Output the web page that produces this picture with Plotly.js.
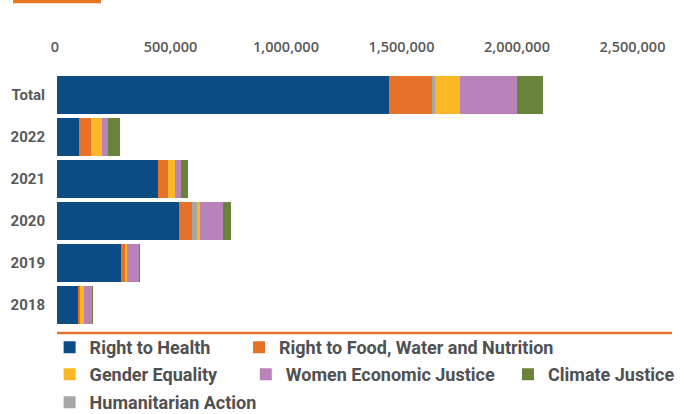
<!DOCTYPE html>
<html>
<head>
<meta charset="utf-8">
<script src="https://cdn.plot.ly/plotly-3.0.1.min.js"></script>
<style>html,body{margin:0;padding:0;background:#fff;}#chart{width:684px;height:414px;}</style>
</head>
<body>
<div id="chart"></div>
<script>
// Categories (top to bottom)
const categories = ['Total', '2022', '2021', '2020', '2019', '2018'];

// Series values
const rightToHealth   = [1437000,  95000, 437000, 528000, 276000, 89600];
const rightToFood     = [ 185000,  52000,  43000,  56000,  18600, 10000];
const humanitarian    = [  14000,      0,      0,  21600,      0,     0];
const genderEquality  = [ 108000,  47600,  30000,  13000,   8700, 16000];
const womenEconomic   = [ 247000,  26000,  26000,  99600,  52000, 34600];
const climateJustice  = [ 113000,  52000,  30000,  34600,   4300,  4300];

// Series names (stack order)
const seriesNames = ['Right to Health', 'Right to Food, Water and Nutrition', 'Humanitarian Action',
                     'Gender Equality', 'Women Economic Justice', 'Climate Justice'];
const seriesValues = [rightToHealth, rightToFood, humanitarian, genderEquality, womenEconomic, climateJustice];

// Tick values for the value axis
const tickValues = [0, 500000, 1000000, 1500000, 2000000, 2500000];

// Styles
const seriesColors = ['#0B4C87', '#E57228', '#A6A6A6', '#FBB726', '#B983B9', '#6A833B'];
const legendIds = ['legend', 'legend2', 'legend6', 'legend3', 'legend4', 'legend5'];

const traces = seriesNames.map((name, i) => ({
  type: 'bar',
  orientation: 'h',
  name: name,
  y: categories,
  x: seriesValues[i],
  marker: {color: seriesColors[i], line: {width: 0}},
  legend: legendIds[i],
  showlegend: true,
  hoverinfo: 'x+name'
}));

const legendFont = {family: 'Roboto, "Noto Sans", sans-serif', size: 18, color: '#505050', weight: 700};
function mkLegend(x, y) {
  return {visible: true, x: x, y: y, xanchor: 'left', yanchor: 'middle', orientation: 'h',
          font: legendFont, bgcolor: 'rgba(0,0,0,0)', borderwidth: 0, itemclick: false, itemdoubleclick: false};
}

const layout = {
  width: 684, height: 414,
  margin: {l: 57, r: 12, t: 74, b: 88, autoexpand: false},
  paper_bgcolor: '#ffffff', plot_bgcolor: '#ffffff',
  showlegend: true,
  barmode: 'stack',
  bargap: 0.08,
  xaxis: {
    side: 'top',
    range: [0, 2662338],
    tickvals: tickValues,
    tickformat: ',d',
    showgrid: false, zeroline: false, showline: false,
    ticks: '', ticklabelstandoff: 18, ticklabelshift: -2,
    tickfont: {family: '"Open Sans", sans-serif', size: 14.5, color: '#595959', weight: 600}
  },
  yaxis: {
    type: 'category',
    autorange: 'reversed',
    showgrid: false, zeroline: false, showline: false,
    ticks: '', ticklabelstandoff: 11,
    tickfont: {family: 'Roboto, "Noto Sans", sans-serif', size: 15, color: '#595959', weight: 700}
  },
  legend:  mkLegend(-0.012, -0.086),
  legend2: mkLegend(0.296, -0.086),
  legend3: mkLegend(-0.012, -0.193),
  legend4: mkLegend(0.307, -0.193),
  legend5: mkLegend(0.7333, -0.193),
  legend6: mkLegend(-0.012, -0.304),
  shapes: [
    {type: 'line', xref: 'paper', yref: 'paper', x0: 0, x1: 1, y0: -0.028, y1: -0.028,
     line: {color: '#E8702A', width: 2.5}},
    {type: 'rect', xref: 'paper', yref: 'paper', x0: -0.0715, x1: 0.0715, y0: 1.281, y1: 1.33,
     fillcolor: '#E87722', line: {width: 0}}
  ]
};

Plotly.newPlot('chart', traces, layout, {displayModeBar: false, staticPlot: true});
</script>
</body>
</html>
